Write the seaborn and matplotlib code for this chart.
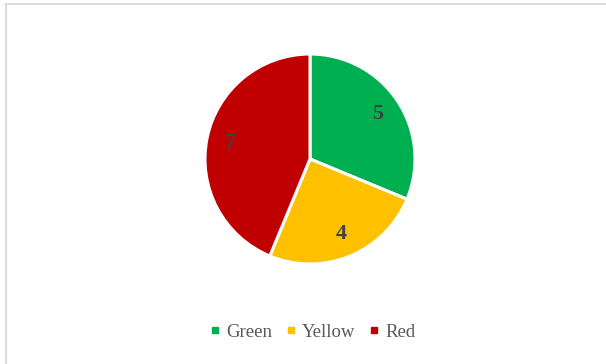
import matplotlib
matplotlib.use("Agg")
import matplotlib.pyplot as plt
import seaborn as sns
from matplotlib.lines import Line2D

# data
categories = ["Green", "Yellow", "Red"]
values = [5, 4, 7]
colors = ["#00B050", "#FFC000", "#C00000"]

sns.set_theme(style="white")
plt.rcParams["font.family"] = ["Liberation Serif", "DejaVu Serif"]

W, H = 606, 364
fig = plt.figure(figsize=(W / 100, H / 100), dpi=100)
fig.patch.set_facecolor("white")

# pie axes: center (310,159) px, radius ~105 px
cx, cy, r = 310, 159, 105
ax = fig.add_axes([(cx - r) / W, (H - cy - r) / H, 2 * r / W, 2 * r / H])

total = sum(values)
palette = sns.color_palette(colors)
wedges, texts, autotexts = ax.pie(
    values,
    colors=palette,
    startangle=90,
    counterclock=False,
    autopct=lambda p: f"{round(p * total / 100)}",
    pctdistance=0.77,
    wedgeprops=dict(edgecolor="white", linewidth=2.2),
    textprops=dict(color="#404040", fontsize=16, fontweight="bold"),
)
ax.set_xlim(-1, 1)
ax.set_ylim(-1, 1)
ax.set_aspect("equal")
ax.axis("off")

# legend at the bottom
handles = [Line2D([], [], marker="s", linestyle="none", markersize=5,
                  markerfacecolor=c, markeredgecolor=c) for c in colors]
fig.legend(handles, categories, loc="center", ncol=3,
           bbox_to_anchor=(313 / W, 1 - 332 / H), frameon=False,
           fontsize=13.5, labelcolor="#595959", handlelength=0.5,
           handletextpad=0.35, columnspacing=0.75)

# chart border (top and left edges visible)
bc = "#D9D9D9"
fig.add_artist(Line2D([5 / W, 1], [1 - 4 / H, 1 - 4 / H], color=bc, linewidth=1.3,
                      transform=fig.transFigure))
fig.add_artist(Line2D([5.5 / W, 5.5 / W], [0, 1 - 4 / H], color=bc, linewidth=1.3,
                      transform=fig.transFigure))

fig.savefig("out.png", dpi=100, facecolor="white")
